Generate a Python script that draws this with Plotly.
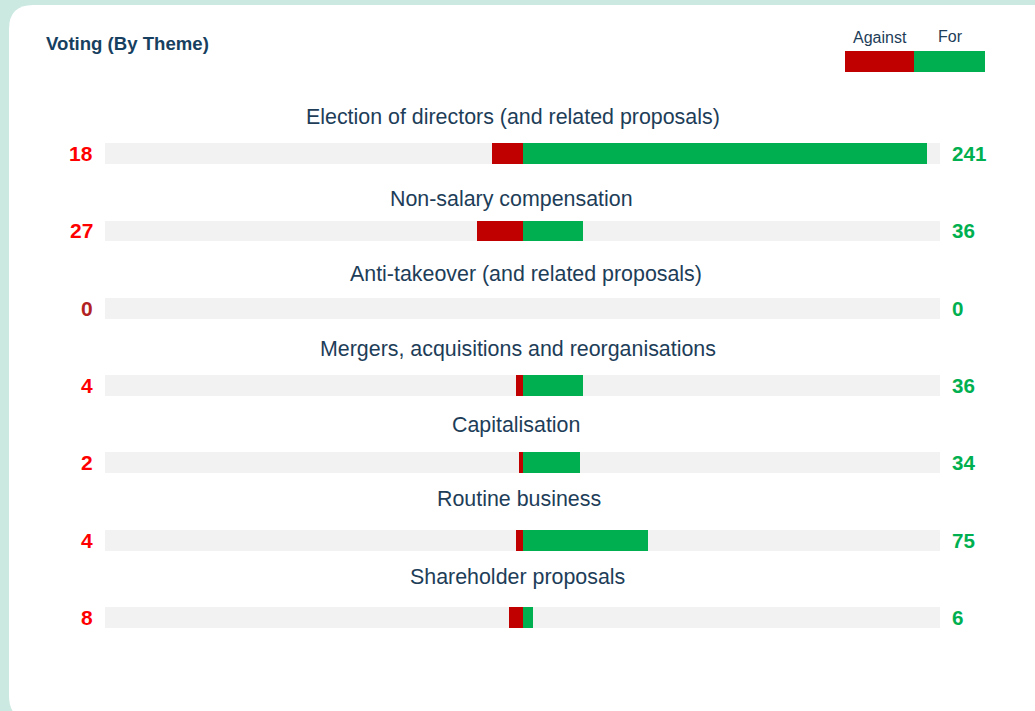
import plotly.graph_objects as go

# ---- data ----
themes = [
    "Election of directors (and related proposals)",
    "Non-salary compensation",
    "Anti-takeover (and related proposals)",
    "Mergers, acquisitions and reorganisations",
    "Capitalisation",
    "Routine business",
    "Shareholder proposals",
]
against = [18, 27, 0, 4, 2, 4, 8]
for_votes = [241, 36, 0, 36, 34, 75, 6]
axis_max = 249

# ---- styling ----
W, H = 1035, 711
ML, MR, MT, MB = 105, 95, 115, 55
PW, PH = W - ML - MR, H - MT - MB
RED = "#c00000"
GREEN = "#00b050"
TRACK = "#f2f2f2"
NAVY = "#1d3d58"
BG = "#cbe8e1"
FONT = "Liberation Sans, Arial, sans-serif"
title_yshift = [37, 32, 34, 37, 38, 41, 40]   # px above each bar for its theme label
title_xshift = [-10, -11, 3, -5, -7, -4, -5]  # small horizontal nudges of the labels


def px(x):
    return (x - ML) / PW


def py(y):
    return (H - MB - y) / PH


rows = list(range(len(themes)))
bw = 0.27

fig = go.Figure()
fig.add_trace(go.Bar(
    y=rows, x=[2 * axis_max] * len(rows), base=[-axis_max] * len(rows),
    orientation="h", width=bw, marker=dict(color=TRACK, line=dict(width=0)),
    hoverinfo="skip", showlegend=False))
fig.add_trace(go.Bar(
    y=rows, x=[-a for a in against], orientation="h", width=bw,
    marker=dict(color=RED, line=dict(width=0)), name="Against", showlegend=False))
fig.add_trace(go.Bar(
    y=rows, x=for_votes, orientation="h", width=bw,
    marker=dict(color=GREEN, line=dict(width=0)), name="For", showlegend=False))

annotations = []
for i, (t, a, f) in enumerate(zip(themes, against, for_votes)):
    annotations.append(dict(x=0, y=i, xref="x", yref="y", text=t, showarrow=False,
                            yshift=title_yshift[i], xshift=title_xshift[i],
                            xanchor="center", yanchor="middle",
                            font=dict(family=FONT, size=21.4, color=NAVY)))
    annotations.append(dict(x=-axis_max, y=i, xref="x", yref="y", text=f"<b>{a}</b>",
                            showarrow=False, xanchor="right", xshift=-10, yanchor="middle",
                            font=dict(family=FONT, size=21,
                                      color="#b22222" if a == 0 else "#ff0000")))
    annotations.append(dict(x=axis_max, y=i, xref="x", yref="y", text=f"<b>{f}</b>",
                            showarrow=False, xanchor="left", xshift=10, yanchor="middle",
                            font=dict(family=FONT, size=20.6, color=GREEN)))

# title
annotations.append(dict(x=px(44), y=py(43), xref="paper", yref="paper",
                        text="<b>Voting (By Theme)</b>", showarrow=False,
                        xanchor="left", yanchor="middle",
                        font=dict(family=FONT, size=18.6, color="#173f5f")))
# legend labels
annotations.append(dict(x=px(880), y=py(38), xref="paper", yref="paper", text="Against",
                        showarrow=False, xanchor="center", yanchor="middle",
                        font=dict(family=FONT, size=16, color=NAVY)))
annotations.append(dict(x=px(951), y=py(37), xref="paper", yref="paper", text="For",
                        showarrow=False, xanchor="center", yanchor="middle",
                        font=dict(family=FONT, size=16, color=NAVY)))

# card shape
x0, y0, x1, y1, r = 9, 5, 1060, 720, 24
path = (f"M {px(x0 + r)},{py(y0)} L {px(x1)},{py(y0)} L {px(x1)},{py(y1)} "
        f"L {px(x0 + r)},{py(y1)} Q {px(x0)},{py(y1)} {px(x0)},{py(y1 - r)} "
        f"L {px(x0)},{py(y0 + r)} Q {px(x0)},{py(y0)} {px(x0 + r)},{py(y0)} Z")
shapes = [
    dict(type="path", path=path, xref="paper", yref="paper", layer="below",
         fillcolor="white", line=dict(width=0)),
    dict(type="rect", xref="paper", yref="paper", x0=px(845), x1=px(914),
         y0=py(72), y1=py(51), fillcolor=RED, line=dict(width=0)),
    dict(type="rect", xref="paper", yref="paper", x0=px(914), x1=px(985),
         y0=py(72), y1=py(51), fillcolor=GREEN, line=dict(width=0)),
]

fig.update_layout(
    width=W, height=H,
    margin=dict(l=ML, r=MR, t=MT, b=MB),
    paper_bgcolor=BG, plot_bgcolor="rgba(0,0,0,0)",
    barmode="overlay", bargap=0,
    xaxis=dict(range=[-axis_max, axis_max], visible=False, fixedrange=True),
    yaxis=dict(range=[len(rows) - 0.5, -0.5], visible=False, fixedrange=True),
    annotations=annotations, shapes=shapes,
    showlegend=False,
)

fig.write_html(
    "out.html",
    config={"displayModeBar": False},
    post_script=(
        "document.body.style.margin='0';document.body.style.padding='0';"
        "document.body.style.overflow='hidden';"
        "document.body.style.background='" + BG + "';"
    ),
)
